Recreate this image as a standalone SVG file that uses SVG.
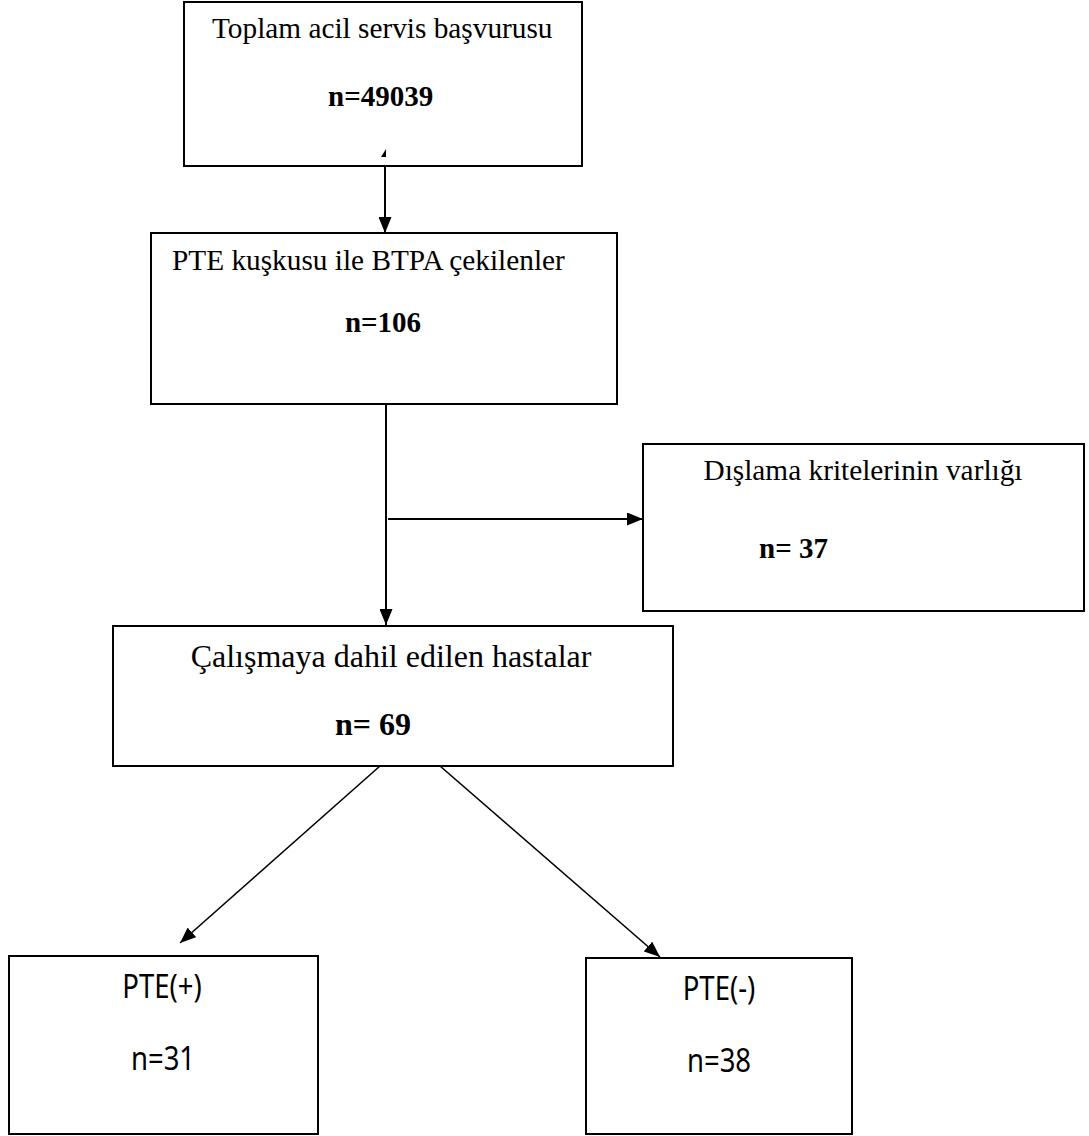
<svg xmlns="http://www.w3.org/2000/svg" width="1089" height="1136" viewBox="0 0 1089 1136">
<style>
.box{fill:#fff;stroke:#000;stroke-width:2}
.t{font-family:"Liberation Serif","Times New Roman",serif;font-size:29.3px;fill:#000}
.b{font-family:"Liberation Serif","Times New Roman",serif;font-size:29px;font-weight:bold;fill:#000}
.t2{font-size:32px}
.s{font-family:"Noto Sans","Liberation Sans",Arial,sans-serif;font-size:32px;fill:#000}
.c{stroke:#000;stroke-width:2;fill:none}
.d{stroke:#000;stroke-width:1.6;fill:none}
</style>
<defs>
<marker id="ah" markerUnits="userSpaceOnUse" viewBox="0 0 16 13" refX="16" refY="6.5" markerWidth="16" markerHeight="13" orient="auto">
<path d="M0,0 L16,6.5 L0,13 z" fill="#000"/>
</marker>
</defs>
<rect width="1089" height="1136" fill="#fff"/>
<g id="n1">
<rect class="box" x="184" y="2" width="398" height="164"/>
<text class="t" x="212" y="38">Toplam acil servis başvurusu</text>
<text class="b" x="328" y="106">n=49039</text>
</g>
<g id="n2">
<rect class="box" x="151" y="233" width="466" height="171"/>
<text class="t" x="172" y="270">PTE kuşkusu ile BTPA çekilenler</text>
<text class="b" x="383" y="332" text-anchor="middle">n=106</text>
</g>
<g id="n3">
<rect class="box" x="643" y="444" width="441" height="167"/>
<text class="t" x="863" y="480" text-anchor="middle">Dışlama kritelerinin varlığı</text>
<text class="b" x="759" y="558">n= 37</text>
</g>
<g id="n4">
<rect class="box" x="113" y="626" width="560" height="140"/>
<text class="t t2" x="391" y="667" text-anchor="middle">Çalışmaya dahil edilen hastalar</text>
<text class="b t2" x="335" y="735">n= 69</text>
</g>
<g id="n5">
<rect class="box" x="9" y="956" width="309" height="178"/>
<text class="s" transform="translate(162,998) scale(0.86,1)" text-anchor="middle">PTE(+)</text>
<text class="s" transform="translate(163,1070) scale(0.86,1)" text-anchor="middle">n=31</text>
</g>
<g id="n6">
<rect class="box" x="586" y="958" width="266" height="176"/>
<text class="s" transform="translate(719,1000) scale(0.86,1)" text-anchor="middle">PTE(-)</text>
<text class="s" transform="translate(719,1072) scale(0.86,1)" text-anchor="middle">n=38</text>
</g>
<g id="connectors">
<line class="c" x1="385" y1="166" x2="385" y2="233" marker-end="url(#ah)"/>
<line class="c" x1="386" y1="404" x2="386" y2="625" marker-end="url(#ah)"/>
<line class="c" x1="388" y1="519" x2="643" y2="519" marker-end="url(#ah)"/>
<line class="d" x1="380" y1="766" x2="180" y2="943" marker-end="url(#ah)"/>
<line class="d" x1="440" y1="766" x2="660" y2="957" marker-end="url(#ah)"/>
<path d="M381,157 L386,149 L386,157 z" fill="#000"/>
</g>
</svg>
